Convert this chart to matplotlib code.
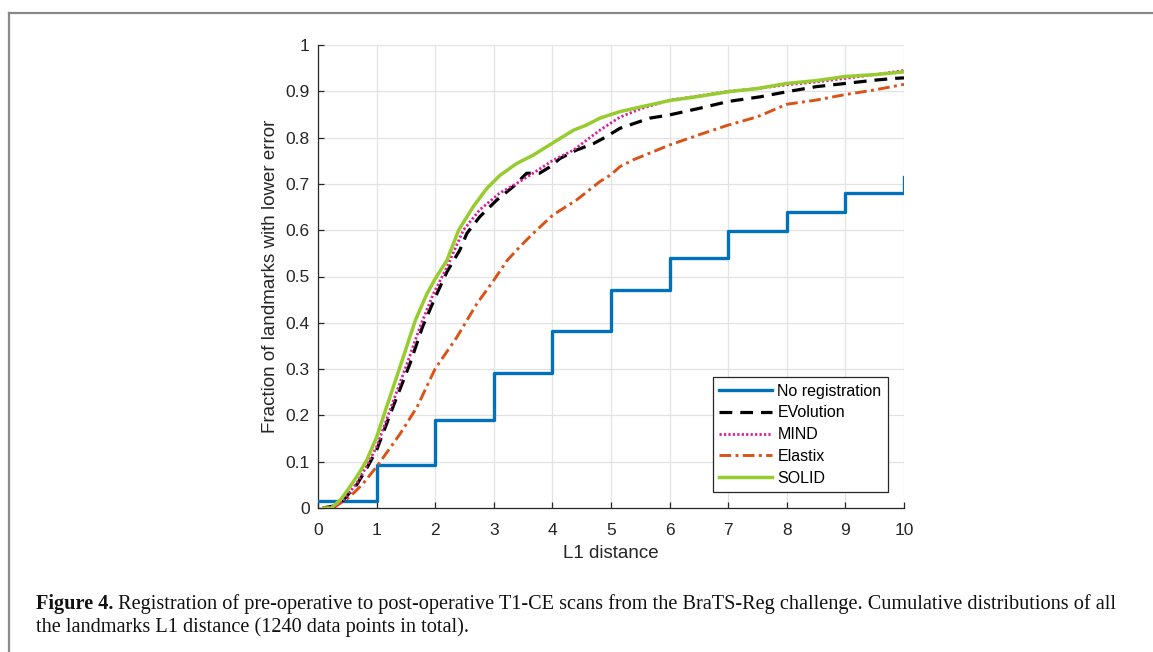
import matplotlib
matplotlib.use("Agg")
import matplotlib.pyplot as plt
from matplotlib.lines import Line2D
import numpy as np

# ---------------- data ----------------
noreg_x = [0, 1, 2, 3, 4, 5, 6, 7, 8, 9, 10, 10]
noreg_y = [0.015, 0.093, 0.19, 0.292, 0.383, 0.471, 0.54, 0.598, 0.64, 0.681, 0.681, 0.715]

evo_x = [0.08, 0.3, 0.43, 0.66, 0.85, 1.0, 1.3, 1.57, 1.78, 2.0, 2.2, 2.42, 2.54, 2.76, 3.05,
         3.33, 3.56, 3.78, 3.96, 4.13, 4.41, 4.7, 4.92, 5.15, 5.66, 6.0, 6.5, 7.0, 7.54, 8.0,
         8.5, 9.0, 9.5, 9.85, 10]
evo_y = [0, 0.005, 0.017, 0.05, 0.09, 0.125, 0.225, 0.312, 0.39, 0.455, 0.51, 0.557, 0.593,
         0.629, 0.665, 0.694, 0.723, 0.723, 0.737, 0.755, 0.773, 0.787, 0.802, 0.82, 0.842,
         0.849, 0.863, 0.878, 0.888, 0.899, 0.91, 0.917, 0.924, 0.928, 0.929]

mind_x = [0.08, 0.3, 0.43, 0.66, 0.85, 1.0, 1.29, 1.52, 1.74, 1.97, 2.2, 2.48, 2.76, 3.1, 3.39,
          3.67, 4.01, 4.36, 4.81, 5.15, 5.5, 6.0, 6.5, 7.0, 7.5, 8.0, 8.5, 9.0, 9.5, 10]
mind_y = [0, 0.005, 0.017, 0.053, 0.095, 0.132, 0.233, 0.312, 0.391, 0.463, 0.52, 0.6, 0.644,
          0.68, 0.701, 0.723, 0.751, 0.773, 0.816, 0.844, 0.862, 0.881, 0.89, 0.9, 0.906,
          0.914, 0.92, 0.928, 0.936, 0.945]

elastix_x = [0.26, 0.54, 0.75, 1.0, 1.4, 1.69, 2.0, 2.37, 2.71, 3.0, 3.23, 3.45, 3.67, 4.01,
             4.41, 4.7, 4.81, 5.0, 5.15, 5.38, 6.0, 6.5, 7.0, 7.5, 8.0, 8.5, 9.0, 9.5, 10]
elastix_y = [0, 0.024, 0.05, 0.089, 0.16, 0.218, 0.301, 0.369, 0.441, 0.492, 0.535, 0.565,
             0.593, 0.633, 0.665, 0.694, 0.705, 0.72, 0.737, 0.752, 0.784, 0.806, 0.827,
             0.845, 0.872, 0.881, 0.893, 0.903, 0.915]

solid_x = [0.1, 0.23, 0.4, 0.54, 0.7, 0.83, 1.0, 1.17, 1.4, 1.66, 1.86, 2.0, 2.2, 2.4, 2.65,
           2.88, 3.1, 3.39, 3.67, 4.0, 4.36, 4.58, 4.81, 5.15, 5.5, 6.0, 6.5, 7.0, 7.5, 8.0,
           8.5, 9.0, 9.5, 10]
solid_y = [0, 0, 0.02, 0.045, 0.075, 0.103, 0.153, 0.218, 0.305, 0.405, 0.463, 0.495, 0.535,
           0.6, 0.651, 0.69, 0.718, 0.744, 0.762, 0.788, 0.816, 0.827, 0.842, 0.856, 0.866,
           0.88, 0.889, 0.899, 0.906, 0.917, 0.923, 0.932, 0.936, 0.942]

x_ticks = list(range(0, 11))
y_ticks = [0, 0.1, 0.2, 0.3, 0.4, 0.5, 0.6, 0.7, 0.8, 0.9, 1]
y_tick_labels = ["0", "0.1", "0.2", "0.3", "0.4", "0.5", "0.6", "0.7", "0.8", "0.9", "1"]

caption_bold = "Figure 4."
caption_1 = (" Registration of pre-operative to post-operative T1-CE scans from the BraTS-Reg "
             "challenge. Cumulative distributions of all")
caption_2 = "the landmarks L1 distance (1240 data points in total)."

# ---------------- figure ----------------
W, H = 1153, 652
fig = plt.figure(figsize=(W / 100, H / 100), dpi=100)
plt.rcParams['font.family'] = ['Liberation Sans', 'DejaVu Sans']

# page frame (top and left gray rule)
fig.add_artist(Line2D([8.5 / W, 8.5 / W], [0, 1 - 13 / H], transform=fig.transFigure,
                      color='#8a8a8a', lw=1.6))
fig.add_artist(Line2D([8.5 / W, 1], [1 - 13 / H, 1 - 13 / H], transform=fig.transFigure,
                      color='#8a8a8a', lw=1.6))

ax = fig.add_axes([318 / W, 1 - 508 / H, (904 - 318) / W, (508 - 45) / H])
axc = '#262626'

ax.plot(noreg_x, noreg_y, drawstyle='steps-post', color='#0072BD', lw=2.4,
        label='No registration', zorder=3)
ax.plot(evo_x, evo_y, color='black', lw=2.3, dashes=(4, 2.5), label='EVolution', zorder=4)
ax.plot(mind_x, mind_y, color='#DA1E9A', lw=2.0, dashes=(0.8, 0.8), label='MIND', zorder=5)
ax.plot(elastix_x, elastix_y, color='#D95319', lw=2.1, dashes=(4, 1.5, 1, 1.5),
        label='Elastix', zorder=3)
ax.plot(solid_x, solid_y, color='#96CC2E', lw=2.5, label='SOLID', zorder=6)

ax.set_xlim(0, 10)
ax.set_ylim(0, 1)
ax.set_xticks(x_ticks)
ax.set_xticklabels([str(t) for t in x_ticks])
ax.set_yticks(y_ticks)
ax.set_yticklabels(y_tick_labels)
ax.grid(True, color='#e3e3e3', lw=0.9)
ax.set_axisbelow(True)
for s in ['top', 'right']:
    ax.spines[s].set_visible(False)
for s in ['left', 'bottom']:
    ax.spines[s].set_color(axc)
    ax.spines[s].set_linewidth(0.9)
ax.tick_params(direction='in', length=4.5, width=0.9, color=axc, labelcolor=axc,
               labelsize=12.5)
ax.tick_params(axis='x', pad=10.5)
ax.tick_params(axis='y', pad=6)
ax.set_xlabel('L1 distance', fontsize=13.5, color=axc, labelpad=5)
ax.set_ylabel('Fraction of landmarks with lower error', fontsize=13.5, color=axc, labelpad=4.5)

leg = ax.legend(loc='lower right', bbox_to_anchor=(0.9727, 0.0346), fontsize=11.5,
                frameon=True, fancybox=False, framealpha=1, edgecolor=axc,
                handlelength=3.3, handletextpad=0.35, labelspacing=0.42, borderpad=0.4,
                borderaxespad=0)
leg.get_frame().set_linewidth(0.9)

# caption
serif = ['Liberation Serif', 'DejaVu Serif']
cfs = 14.6
t = fig.text(36 / W, 1 - 609 / H, caption_bold, fontsize=cfs, fontweight='bold',
             family=serif, va='baseline', ha='left', color='#111111')
fig.canvas.draw()
bb = t.get_window_extent()
fig.text(bb.x1 / W, 1 - 609 / H, caption_1, fontsize=cfs, family=serif,
         va='baseline', ha='left', color='#111111')
fig.text(36 / W, 1 - 632 / H, caption_2, fontsize=cfs, family=serif,
         va='baseline', ha='left', color='#111111')

fig.savefig('out.png', dpi=100)
